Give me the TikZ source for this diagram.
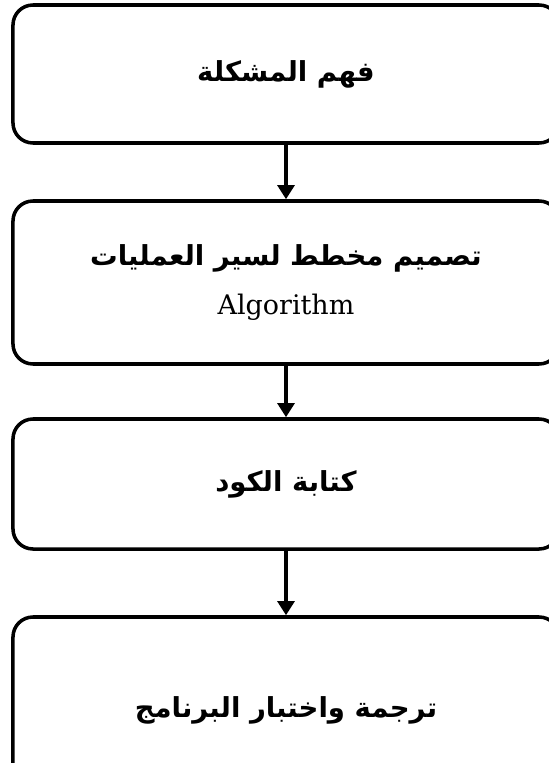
\documentclass[tikz,border=0pt]{standalone}
\usepackage{fontspec}
\newfontfamily\arabicfont[Script=Arabic]{DejaVu Sans}
\newfontfamily\latinfont{DejaVu Serif}
\TeXXeTstate=1
\usetikzlibrary{arrows.meta}
\begin{document}
\begin{tikzpicture}[x=0.03cm,y=-0.03cm,
  stage/.style={draw=black,line width=3pt,rounded corners=0.6cm,minimum width=16.38cm,align=center,font=\fontsize{23.5}{38}\selectfont},
  flow/.style={line width=3pt,-{Triangle[width=0.5cm,length=0.42cm]}}]
\useasboundingbox (0,0) rectangle (548,763);
\node[stage,minimum height=4.14cm] (problem) at (286,74) {\arabicfont\bfseries\beginR فهم المشكلة\endR};
\node[stage,minimum height=4.89cm] (design) at (286,282.5) {{\arabicfont\bfseries\beginR تصميم مخطط لسير العمليات\endR}\\[4pt]{\latinfont\fontsize{23}{26}\selectfont Algorithm}};
\node[stage,minimum height=3.9cm] (code) at (286,484) {\arabicfont\bfseries\beginR كتابة الكود\endR};
\node[stage,minimum height=5.58cm] (test) at (286,710) {\arabicfont\bfseries\beginR ترجمة واختبار البرنامج\endR};
\draw[flow] (problem) -- (design);
\draw[flow] (design) -- (code);
\draw[flow] (code) -- (test);
\end{tikzpicture}
\end{document}
